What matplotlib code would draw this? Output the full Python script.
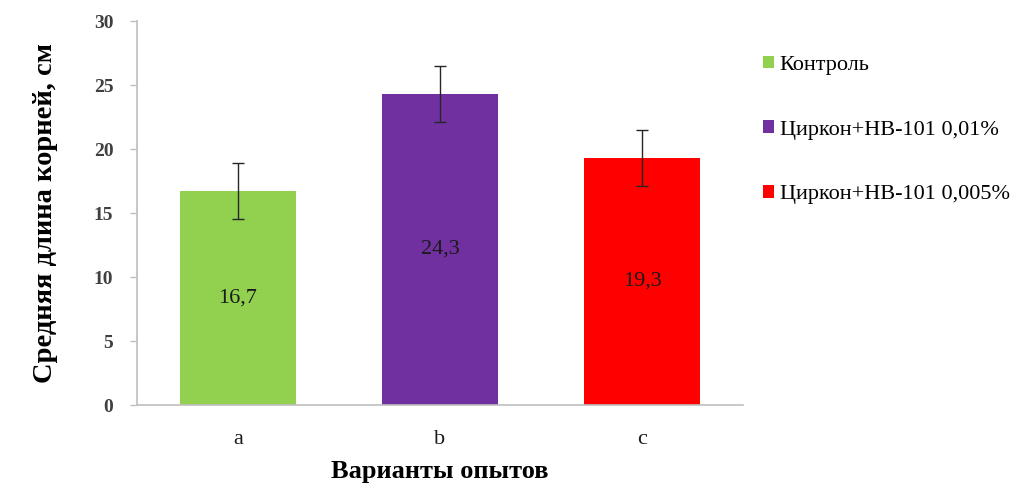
import matplotlib
matplotlib.use("Agg")
import matplotlib.pyplot as plt
from matplotlib.patches import Patch

categories = ["a", "b", "c"]
values = [16.7, 24.3, 19.3]
errors = [2.2, 2.2, 2.2]
value_labels = ["16,7", "24,3", "19,3"]
series_names = ["Контроль", "Циркон+НВ-101 0,01%", "Циркон+НВ-101 0,005%"]
colors = ["#92D050", "#7030A0", "#FF0000"]
yticks = [0, 5, 10, 15, 20, 25, 30]

plt.rcParams['font.family'] = ['Liberation Serif', 'DejaVu Serif']

fig = plt.figure(figsize=(10.23, 4.9), dpi=100)
ax = fig.add_axes([137/1023, 1-405/490, (743-137)/1023, (405-21)/490])

x = list(range(len(categories)))
bars = ax.bar(x, values, width=0.575, color=colors, yerr=errors,
              error_kw=dict(ecolor="#262626", elinewidth=1.0, capsize=4.5, capthick=1.0))
for b, lab in zip(bars, value_labels):
    ax.text(b.get_x() + b.get_width()/2, b.get_height()/2, lab,
            ha="center", va="center", fontsize=16, color="#1a1a1a")

ax.set_xlim(-0.5, 2.5)
ax.set_ylim(0, 30)
ax.set_yticks(yticks)
ax.set_yticklabels([str(t) for t in yticks], fontsize=14, fontweight="bold", color="#404040")
ax.set_xticks(x)
ax.set_xticklabels(categories, fontsize=16, color="#1a1a1a")
ax.tick_params(axis="x", length=0, pad=18)
ax.tick_params(axis="y", length=5, color="#BFBFBF", width=1, pad=12)

for s in ["top", "right"]:
    ax.spines[s].set_visible(False)
for s in ["left", "bottom"]:
    ax.spines[s].set_color("#BFBFBF")
    ax.spines[s].set_linewidth(1.2)

ax.set_ylabel("Средняя длина корней, см", fontsize=20.5, fontweight="bold", labelpad=26)
ax.set_xlabel("Варианты опытов", fontsize=19, fontweight="bold", labelpad=8)

handles = [Patch(facecolor=c, edgecolor="none") for c in colors]
fig.legend(handles, series_names, loc="center left",
           bbox_to_anchor=(763/1023, 1-130/490), frameon=False,
           fontsize=16, handlelength=0.5, handleheight=0.5, handletextpad=0.25,
           labelspacing=2.05, borderpad=0, borderaxespad=0)

fig.savefig("out.png", dpi=100)
